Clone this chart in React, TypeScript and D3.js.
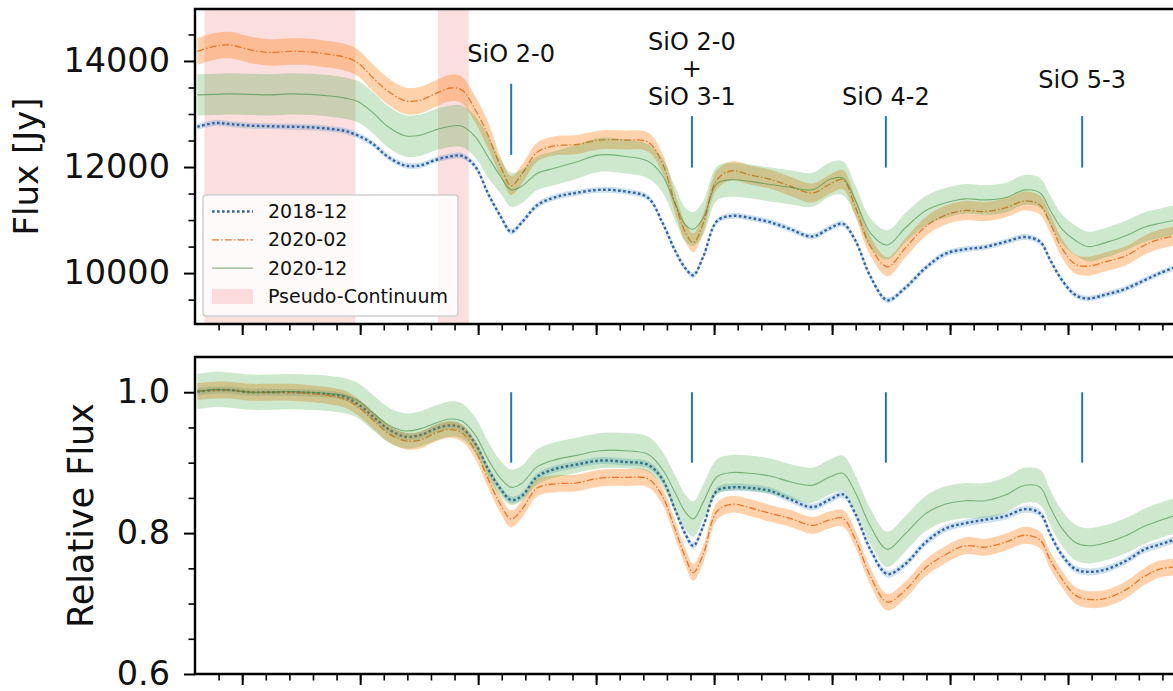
import React, { useEffect, useRef } from "react";
import * as d3 from "d3";

// wavelength grid (micron)
const wavelength = [
  3.8905, 3.8943, 3.8975, 3.9017, 3.9059, 3.9102, 3.9144, 3.9186, 3.9218, 3.9246,
  3.9275, 3.9309, 3.9345, 3.9377, 3.9409, 3.9441, 3.9466, 3.9494, 3.9521, 3.9547,
  3.957, 3.9593, 3.9625, 3.9663, 3.9706, 3.9758, 3.9811, 3.986, 3.989, 3.9917,
  3.9939, 3.9956, 3.9977, 4.0006, 4.0038, 4.0076, 4.0119, 4.0161, 4.0208, 4.0246,
  4.0273, 4.0299, 4.0331, 4.0367, 4.0405, 4.0447, 4.0489, 4.0532, 4.0574, 4.0617,
  4.0659, 4.0691, 4.0712, 4.0737, 4.0765, 4.0792, 4.0828, 4.0871, 4.0913, 4.0945,
  4.0977,
];

// flux [Jy]
const flux2018_12 = [
  12760, 12830, 12810, 12780, 12770, 12760, 12750, 12720, 12680, 12590,
  12450, 12190, 12030, 12030, 12130, 12200, 12210, 12010, 11500, 11080,
  10780, 10960, 11280, 11430, 11510, 11570, 11540, 11420, 10960, 10430,
  10090, 9960, 10310, 10980, 11080, 11040, 10960, 10830, 10690, 10850,
  10930, 10620, 9940, 9490, 9720, 10090, 10360, 10450, 10490, 10590,
  10680, 10590, 10250, 9870, 9590, 9520, 9590, 9700, 9870, 10000,
  10110,
];
const flux2020_02 = [
  14180, 14280, 14300, 14210, 14160, 14180, 14170, 14120, 14070, 13960,
  13700, 13430, 13250, 13260, 13380, 13490, 13450, 13080, 12600, 12020,
  11650, 11870, 12280, 12400, 12420, 12510, 12510, 12470, 12080, 11320,
  10770, 10570, 10940, 11760, 11930, 11850, 11770, 11640, 11510, 11680,
  11760, 11250, 10510, 10120, 10470, 10870, 11090, 11180, 11160, 11230,
  11360, 11280, 10940, 10470, 10170, 10130, 10210, 10320, 10530, 10640,
  10700,
];
const flux2020_12 = [
  13360, 13370, 13380, 13370, 13360, 13380, 13370, 13340, 13300, 13230,
  13040, 12760, 12590, 12600, 12700, 12770, 12770, 12570, 12190, 11830,
  11570, 11640, 11880, 11980, 12090, 12230, 12200, 12110, 11850, 11320,
  10910, 10830, 11040, 11690, 11760, 11730, 11670, 11620, 11570, 11770,
  11790, 11380, 10760, 10530, 10850, 11170, 11320, 11400, 11380, 11420,
  11570, 11510, 11190, 10830, 10620, 10500, 10570, 10700, 10870, 10940,
  11000,
];

// flux uncertainties [Jy]
const fluxErr2018_12 = 55;
const fluxErr2020_02 = [
  250, 250, 250, 250, 250, 250, 250, 250, 250, 250,
  250, 250, 250, 250, 250, 250, 250, 250, 250, 180,
  180, 180, 180, 180, 180, 180, 180, 180, 180, 180,
  180, 180, 180, 180, 180, 180, 180, 180, 180, 180,
  180, 180, 180, 180, 180, 180, 180, 180, 180, 180,
  180, 180, 180, 180, 180, 180, 180, 180, 180, 180,
  180,
];
const fluxErr2020_12 = [
  390, 390, 390, 390, 390, 390, 390, 390, 390, 390,
  390, 390, 390, 390, 390, 390, 390, 390, 390, 320,
  320, 320, 320, 320, 320, 320, 320, 320, 320, 320,
  320, 320, 320, 320, 320, 320, 320, 320, 320, 320,
  320, 280, 280, 280, 280, 280, 280, 280, 280, 280,
  280, 280, 280, 280, 280, 280, 280, 280, 280, 280,
  280,
];

// relative flux
const rel2018_12 = [
  1.001, 1.003, 1.003, 1.0, 1.0, 1.0, 0.999, 0.997, 0.993, 0.983,
  0.967, 0.948, 0.937, 0.939, 0.948, 0.953, 0.949, 0.927, 0.891, 0.863,
  0.847, 0.853, 0.88, 0.891, 0.897, 0.903, 0.901, 0.897, 0.877, 0.834,
  0.799, 0.782, 0.81, 0.86, 0.865, 0.864, 0.86, 0.848, 0.837, 0.848,
  0.855, 0.828, 0.777, 0.742, 0.756, 0.786, 0.806, 0.814, 0.819, 0.824,
  0.834, 0.828, 0.799, 0.769, 0.749, 0.745, 0.748, 0.76, 0.777, 0.784,
  0.791,
];
const rel2020_02 = [
  1.001, 1.003, 1.003, 1.0, 1.0, 1.0, 0.998, 0.995, 0.99, 0.979,
  0.962, 0.942, 0.931, 0.932, 0.942, 0.947, 0.942, 0.917, 0.877, 0.841,
  0.82, 0.834, 0.864, 0.87, 0.871, 0.878, 0.879, 0.877, 0.853, 0.806,
  0.766, 0.744, 0.77, 0.831, 0.841, 0.836, 0.828, 0.821, 0.811, 0.819,
  0.821, 0.792, 0.739, 0.702, 0.719, 0.75, 0.769, 0.782, 0.78, 0.787,
  0.797, 0.79, 0.762, 0.735, 0.712, 0.706, 0.707, 0.719, 0.739, 0.749,
  0.752,
];
const rel2020_12 = [
  1.001, 1.004, 1.003, 1.0, 1.0, 1.001, 1.0, 0.998, 0.995, 0.988,
  0.972, 0.954, 0.945, 0.948, 0.956, 0.962, 0.959, 0.939, 0.905, 0.878,
  0.865, 0.871, 0.894, 0.904, 0.91, 0.917, 0.917, 0.912, 0.891, 0.858,
  0.83, 0.82, 0.844, 0.88, 0.886, 0.885, 0.881, 0.873, 0.868, 0.88,
  0.885, 0.858, 0.81, 0.777, 0.799, 0.827, 0.841, 0.846, 0.846, 0.854,
  0.868, 0.865, 0.837, 0.807, 0.787, 0.782, 0.786, 0.796, 0.81, 0.818,
  0.825,
];
const relErr2018_12 = 0.005;
const relErr2020_02 = 0.012;
const relErr2020_12 = 0.025;

// pseudo-continuum windows (micron)
const continuumStart = [3.892, 3.9415];
const continuumEnd = [3.924, 3.948];

// SiO band heads
const bandNames = [["SiO 2-0"], ["SiO 2-0", "+", "SiO 3-1"], ["SiO 4-2"], ["SiO 5-3"]];
const bandWavelength = [3.957, 3.9953, 4.0364, 4.078];
const bandLabelFlux = [13980, 14210, 13170, 13490];
const bandMarkLow = [12230, 11990, 11990, 11990];
const bandMarkHigh = [13570, 12960, 12960, 12960];
const bandRelLow = [0.9, 0.9, 0.9, 0.9];
const bandRelHigh = [1.0, 1.0, 1.0, 1.0];

const epochs = ["2018-12", "2020-02", "2020-12"];

const W = 1173;
const H = 691;
const FONT = "DejaVu Sans, sans-serif";

const App = () => {
  const ref = useRef<SVGSVGElement>(null);

  useEffect(() => {
    if (!ref.current) return;
    const svg = d3.select(ref.current);
    svg.selectAll("*").remove();

    const x = d3.scaleLinear().domain([3.89, 4.1]).range([195, 1186]);
    const yTop = d3.scaleLinear().domain([9040, 14980]).range([324, 9]);
    const yBot = d3.scaleLinear().domain([0.6, 1.05]).range([674, 357]);

    const styles = [
      { color: "#1f77b4", line: "#2f62a8", width: 2.4, dash: "2.6,2.4", band: 0.22, lineOpacity: 1 },
      { color: "#ff7f0e", line: "#e8762a", width: 1.3, dash: "7,2.2,1.4,2.2", band: 0.35, lineOpacity: 1 },
      { color: "#2ca02c", line: "#3c8a3c", width: 1.1, dash: null, band: 0.24, lineOpacity: 0.6 },
    ];

    const drawPanel = (
      yScale: d3.ScaleLinear<number, number>,
      values: number[][],
      errs: (number | number[])[],
      clipId: string
    ) => {
      const [y0, y1] = yScale.range();
      svg
        .append("clipPath")
        .attr("id", clipId)
        .append("rect")
        .attr("x", x.range()[0])
        .attr("y", y1)
        .attr("width", x.range()[1] - x.range()[0])
        .attr("height", y0 - y1);
      const g = svg.append("g").attr("clip-path", `url(#${clipId})`);

      values.forEach((vals, k) => {
        const s = styles[k];
        const e = errs[k];
        const err = (i: number) => (Array.isArray(e) ? e[i] : e);
        const area = d3
          .area<number>()
          .x((_, i) => x(wavelength[i]))
          .y0((d, i) => yScale(d - err(i)))
          .y1((d, i) => yScale(d + err(i)))
          .curve(d3.curveCatmullRom.alpha(0.5));
        const line = d3
          .line<number>()
          .x((_, i) => x(wavelength[i]))
          .y((d) => yScale(d))
          .curve(d3.curveCatmullRom.alpha(0.5));
        g.append("path").attr("d", area(vals)).attr("fill", s.color).attr("fill-opacity", s.band);
        g.append("path")
          .attr("d", line(vals))
          .attr("fill", "none")
          .attr("stroke", s.line)
          .attr("stroke-width", s.width)
          .attr("stroke-opacity", s.lineOpacity)
          .attr("stroke-dasharray", s.dash);
      });
      return g;
    };

    // pseudo-continuum shading (behind the curves)
    const pc = svg.append("g");
    continuumStart.forEach((s, i) => {
      pc.append("rect")
        .attr("x", x(s))
        .attr("y", yTop.range()[1])
        .attr("width", x(continuumEnd[i]) - x(s))
        .attr("height", yTop.range()[0] - yTop.range()[1])
        .attr("fill", "#f08080")
        .attr("fill-opacity", 0.25);
    });

    drawPanel(yTop, [flux2018_12, flux2020_02, flux2020_12], [fluxErr2018_12, fluxErr2020_02, fluxErr2020_12], "clipTop");
    drawPanel(yBot, [rel2018_12, rel2020_02, rel2020_12], [relErr2018_12, relErr2020_02, relErr2020_12], "clipBot");

    // band-head markers
    bandWavelength.forEach((w, i) => {
      svg.append("line")
        .attr("x1", x(w)).attr("x2", x(w))
        .attr("y1", yTop(bandMarkLow[i])).attr("y2", yTop(bandMarkHigh[i]))
        .attr("stroke", "#1f77b4").attr("stroke-width", 2);
      svg.append("line")
        .attr("x1", x(w)).attr("x2", x(w))
        .attr("y1", yBot(bandRelLow[i])).attr("y2", yBot(bandRelHigh[i]))
        .attr("stroke", "#1f77b4").attr("stroke-width", 2);
      const t = svg.append("text")
        .attr("x", x(w))
        .attr("y", yTop(bandLabelFlux[i]))
        .attr("text-anchor", "middle")
        .attr("font-family", FONT)
        .attr("font-size", 24)
        .attr("fill", "#111");
      bandNames[i].forEach((lbl, j) => {
        t.append("tspan").attr("x", x(w)).attr("dy", j === 0 ? 0 : 27.5).text(lbl);
      });
    });

    // axes
    const axisPanel = (
      yScale: d3.ScaleLinear<number, number>,
      majors: number[],
      minors: number[],
      fmt: (d: number) => string
    ) => {
      const [yb, yt] = yScale.range();
      const [xl, xr] = x.range();
      const g = svg.append("g").attr("font-family", FONT);

      const yMajor = g.append("g").attr("transform", `translate(${xl},0)`)
        .call(d3.axisLeft(yScale).tickValues(majors).tickSize(11).tickPadding(14).tickFormat((d) => fmt(+d)));
      yMajor.select(".domain").remove();
      yMajor.selectAll("text").attr("font-size", 33.5).attr("fill", "#111").attr("font-family", FONT);
      yMajor.selectAll("line").attr("stroke-width", 2);

      const yMinor = g.append("g").attr("transform", `translate(${xl},0)`)
        .call(d3.axisLeft(yScale).tickValues(minors).tickSize(6.5).tickFormat(() => ""));
      yMinor.select(".domain").remove();
      yMinor.selectAll("line").attr("stroke-width", 1.6);

      const xMajor = g.append("g").attr("transform", `translate(0,${yb})`)
        .call(d3.axisBottom(x).tickValues(d3.range(3.9, 4.1, 0.025)).tickSize(11).tickFormat(() => ""));
      xMajor.select(".domain").remove();
      xMajor.selectAll("line").attr("stroke-width", 2);

      const xMinor = g.append("g").attr("transform", `translate(0,${yb})`)
        .call(d3.axisBottom(x).tickValues(d3.range(3.895, 4.1, 0.005)).tickSize(6.5).tickFormat(() => ""));
      xMinor.select(".domain").remove();
      xMinor.selectAll("line").attr("stroke-width", 1.6);

      g.append("path")
        .attr("d", `M${xr},${yt}H${xl}V${yb}H${xr}`)
        .attr("fill", "none")
        .attr("stroke", "#000")
        .attr("stroke-width", 2.4);
    };

    axisPanel(yTop, [10000, 12000, 14000], d3.range(9500, 15000, 500).filter((v) => v % 2000 !== 0), d3.format("d"));
    axisPanel(yBot, [0.6, 0.8, 1.0], [0.65, 0.7, 0.75, 0.85, 0.9, 0.95], d3.format(".1f"));

    // axis titles
    svg.append("text")
      .attr("transform", `translate(38,${(yTop.range()[0] + yTop.range()[1]) / 2}) rotate(-90)`)
      .attr("text-anchor", "middle")
      .attr("font-family", FONT)
      .attr("font-size", 34)
      .attr("fill", "#111")
      .text("Flux [Jy]");
    svg.append("text")
      .attr("transform", `translate(93,${(yBot.range()[0] + yBot.range()[1]) / 2}) rotate(-90)`)
      .attr("text-anchor", "middle")
      .attr("font-family", FONT)
      .attr("font-size", 35)
      .attr("fill", "#111")
      .text("Relative Flux");

    // legend
    const lg = svg.append("g").attr("font-family", FONT);
    lg.append("rect")
      .attr("x", 203).attr("y", 195).attr("width", 255).attr("height", 121).attr("rx", 3)
      .attr("fill", "#fff").attr("fill-opacity", 0.85)
      .attr("stroke", "#cfcfcf").attr("stroke-width", 1.5);
    epochs.forEach((name, i) => {
      const s = styles[i];
      const yy = 211.5 + i * 28.3;
      lg.append("line")
        .attr("x1", 212).attr("x2", 253).attr("y1", yy).attr("y2", yy)
        .attr("stroke", s.line).attr("stroke-width", s.width)
        .attr("stroke-opacity", s.lineOpacity).attr("stroke-dasharray", s.dash);
      lg.append("text").attr("x", 268).attr("y", yy).attr("dy", "0.35em")
        .attr("font-size", 19).attr("fill", "#111").text(name);
    });
    const yy = 211.5 + 3 * 28.3;
    lg.append("rect").attr("x", 212).attr("y", yy - 7.5).attr("width", 41).attr("height", 15)
      .attr("fill", "#f08080").attr("fill-opacity", 0.25);
    lg.append("text").attr("x", 268).attr("y", yy).attr("dy", "0.35em")
      .attr("font-size", 19).attr("fill", "#111").text("Pseudo-Continuum");
  }, []);

  return (
    <svg
      ref={ref}
      width={W}
      height={H}
      style={{ position: "absolute", left: 0, top: 0, background: "#fff" }}
    ></svg>
  );
};

export default App;
